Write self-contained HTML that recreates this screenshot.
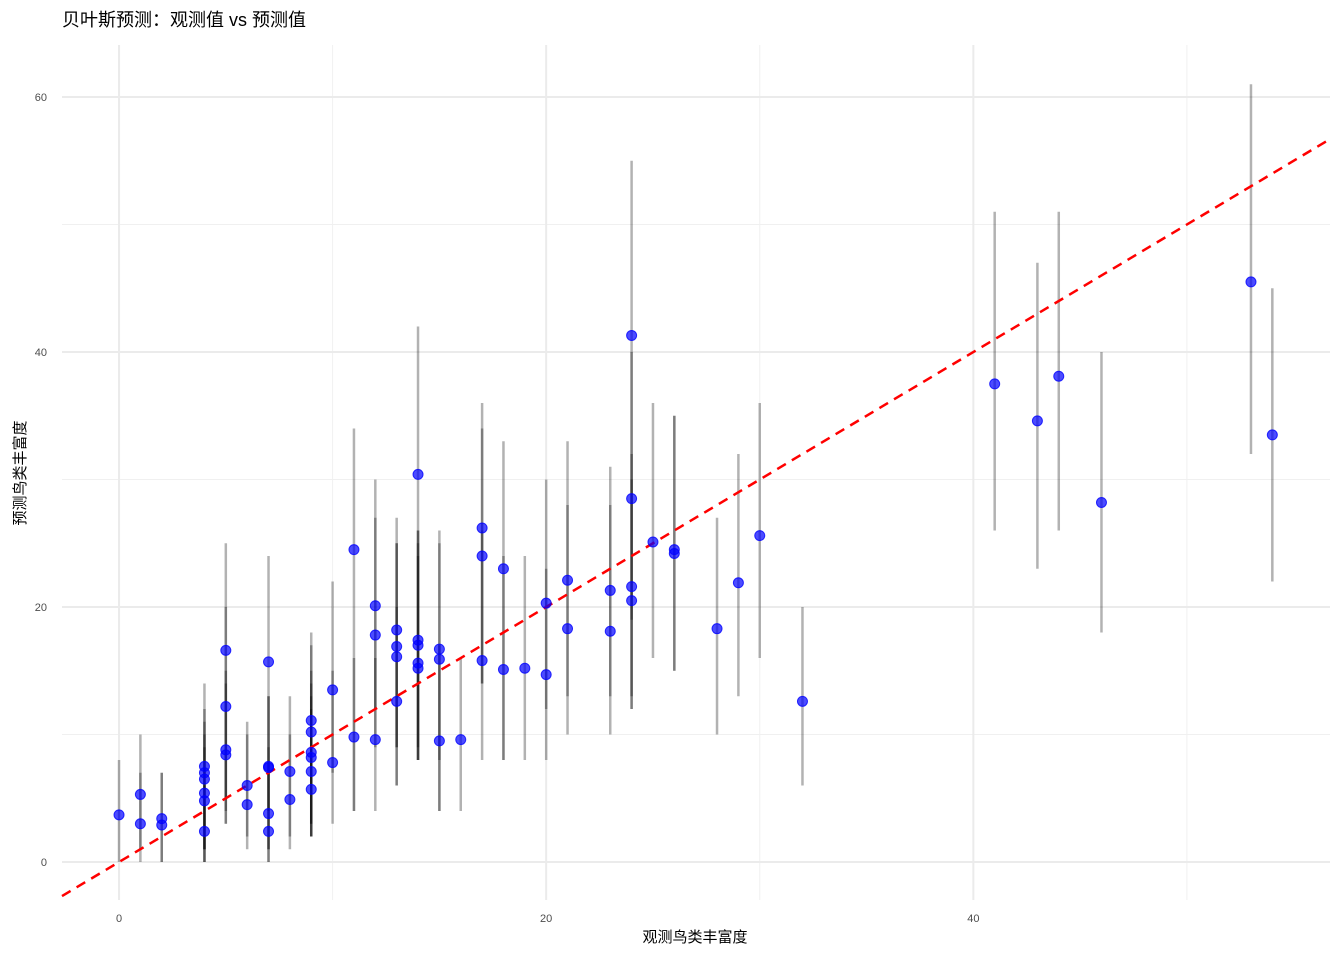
<!DOCTYPE html>
<html><head><meta charset="utf-8"><style>
body{margin:0;background:#fff;}
svg{display:block;font-family:"Liberation Sans","Noto Sans CJK SC",sans-serif;}
</style></head><body>
<svg id="chart" width="1344" height="960"></svg>
<script>
const obsX=[0,1,1,2,2,4,4,4,4,4,4,5,5,5,5,6,6,7,7,7,7,7,8,8,9,9,9,9,9,9,10,10,11,11,12,12,12,13,13,13,13,14,14,14,14,14,15,15,15,16,17,17,17,18,18,19,20,20,21,21,23,23,24,24,24,24,25,26,26,28,29,30,32,41,43,44,46,53,54];
const predY=[3.7,5.3,3.0,3.4,2.9,7.5,7.0,6.5,5.4,4.8,2.4,16.6,12.2,8.8,8.4,6.0,4.5,15.7,7.5,7.4,3.8,2.4,7.1,4.9,11.1,10.2,8.6,8.2,7.1,5.7,13.5,7.8,24.5,9.8,20.1,17.8,9.6,18.2,16.9,16.1,12.6,30.4,17.4,17.0,15.6,15.2,16.7,15.9,9.5,9.6,26.2,24.0,15.8,23.0,15.1,15.2,20.3,14.7,22.1,18.3,21.3,18.1,41.3,28.5,21.6,20.5,25.1,24.5,24.2,18.3,21.9,25.6,12.6,37.5,34.6,38.1,28.2,45.5,33.5];
const lowY=[0,0,1,0,0,1,1,0,0,1,0,5,4,3,3,1,2,4,1,1,0,0,2,1,3,3,2,2,2,2,7,3,4,4,12,9,4,9,9,6,6,9,8,8,8,8,8,4,4,4,14,14,8,8,8,8,12,8,13,10,13,10,19,13,12,12,16,15,15,10,13,16,6,26,23,26,18,32,22];
const highY=[8,10,7,7,7,14,12,11,10,9,6,25,20,15,14,11,10,24,13,13,9,7,13,10,18,17,15,14,13,12,22,15,34,16,30,27,16,27,25,25,20,42,26,26,25,24,26,25,17,16,36,34,26,33,24,24,30,23,33,28,31,28,55,40,32,30,36,35,35,27,32,36,20,51,47,51,40,61,45];
const xTicks=[0,20,40], yTicks=[0,20,40,60];
const X0=62,X1=1330,Y0=45,Y1=900;
const xmin=-2.67,xmax=56.7,ymin=-2.98,ymax=64.08;
const sx=v=>X0+(v-xmin)/(xmax-xmin)*(X1-X0);
const sy=v=>Y1-(v-ymin)/(ymax-ymin)*(Y1-Y0);
const svg=document.getElementById('chart');
const NS='http://www.w3.org/2000/svg';
function mk(t,a,p){const e=document.createElementNS(NS,t);for(const k in a)e.setAttribute(k,a[k]);(p||svg).appendChild(e);return e;}
[10,30,50].forEach(v=>{const l=mk('line',{x1:sx(v),x2:sx(v),y1:Y0,y2:Y1,stroke:'#f0f0f0','stroke-width':1});
});
[10,30,50].forEach(v=>{const l=mk('line',{x1:X0,x2:X1,y1:sy(v),y2:sy(v),stroke:'#f0f0f0','stroke-width':1});
});
xTicks.forEach(v=>{const l=mk('line',{x1:sx(v),x2:sx(v),y1:Y0,y2:Y1,stroke:'#ebebeb','stroke-width':2});

const t=mk('text',{x:sx(v),y:922,'text-anchor':'middle','font-size':11,fill:'#4d4d4d'});t.textContent=v;
});
yTicks.forEach(v=>{const l=mk('line',{x1:X0,x2:X1,y1:sy(v),y2:sy(v),stroke:'#ebebeb','stroke-width':2});

const t=mk('text',{x:47,y:sy(v)+4,'text-anchor':'end','font-size':11,fill:'#4d4d4d'});t.textContent=v;
});
obsX.forEach((x,i)=>{const l=mk('line',{x1:sx(x),x2:sx(x),y1:sy(lowY[i]),y2:sy(highY[i]),stroke:'#000','stroke-opacity':0.3,'stroke-width':2.5});
});
const d=mk('line',{x1:sx(xmin),y1:sy(xmin),x2:sx(xmax),y2:sy(xmax),stroke:'#ff0000','stroke-width':2.5,'stroke-dasharray':'10,7'});

obsX.forEach((x,i)=>{const c=mk('circle',{cx:sx(x),cy:sy(predY[i]),r:5,fill:'#0000ff','fill-opacity':0.7,stroke:'#0000ff','stroke-opacity':0.8,'stroke-width':1});
});
let t=mk('text',{x:62,y:26,'font-size':18,fill:'#000'});t.textContent='贝叶斯预测：观测值 vs 预测值';

t=mk('text',{x:695,y:942,'text-anchor':'middle','font-size':15,fill:'#000'});t.textContent='观测鸟类丰富度';

t=mk('text',{x:0,y:0,'text-anchor':'middle','font-size':15,fill:'#000',transform:'translate(25,473) rotate(-90)'});t.textContent='预测鸟类丰富度';

</script>
</body></html>
